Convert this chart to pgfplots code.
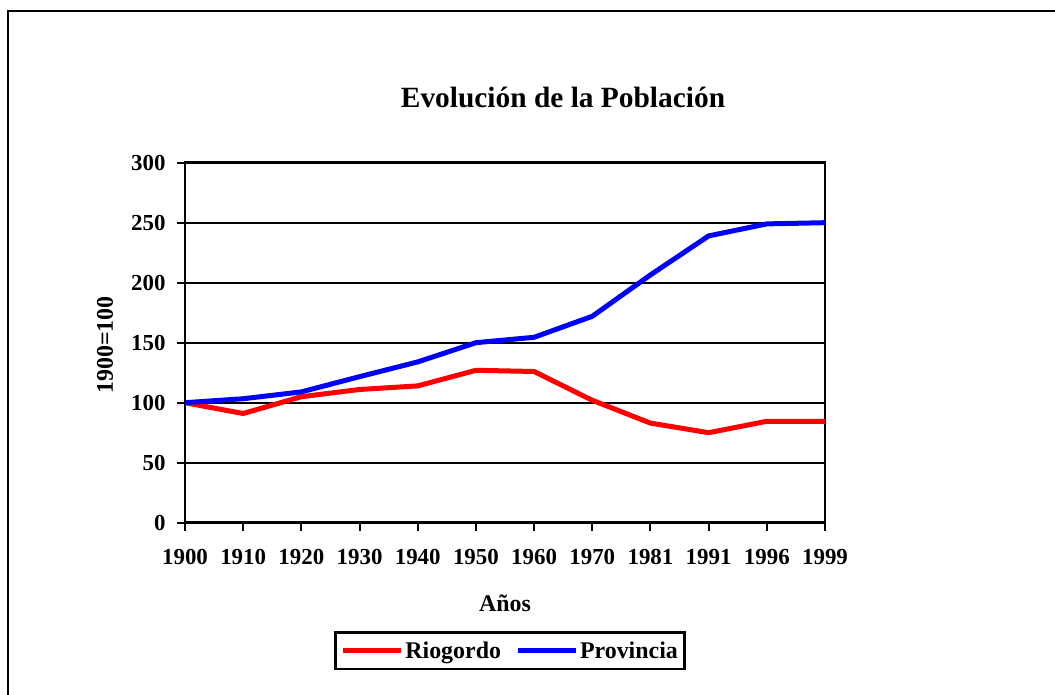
\documentclass[border=0pt]{standalone}
\usepackage{fontspec}
\setmainfont{Liberation Serif}
\usepackage{pgfplots}
\pgfplotsset{compat=1.18}
\pgfplotstableread{
x y
0 100
1 91
2 105
3 111
4 114
5 127
6 126
7 102
8 83
9 75
10 84.5
11 84.5
}\riogordo
\pgfplotstableread{
x y
0 100
1 103.3
2 109
3 121.7
4 134
5 150
6 154.5
7 172
8 206.5
9 239
10 249
11 250
}\provincia
\begin{document}
\begin{tikzpicture}[x=1bp,y=1bp]
\useasboundingbox (0,0) rectangle (1055,695);
\draw[line width=2bp] (8,-10) -- (8,684) -- (1065,684);
\node[font=\fontsize{29.5}{32}\selectfont\bfseries] at (563,598) {Evolución de la Población};
\node[font=\fontsize{24}{27}\selectfont\bfseries] at (505,92) {Años};
\node[font=\fontsize{24}{27}\selectfont\bfseries, rotate=90] at (105,350) {1900=100};
\begin{axis}[
  at={(185bp,172.3bp)}, anchor=south west,
  scale only axis, width=640bp, height=360bp,
  xmin=0, xmax=11, ymin=0, ymax=300,
  xtick={0,...,11},
  xticklabels={1900,1910,1920,1930,1940,1950,1960,1970,1981,1991,1996,1999},
  ytick={0,50,...,300},
  ymajorgrids,
  grid style={black, line width=2bp},
  axis line style={black, line width=2.8bp},
  tick style={black, line width=2bp},
  major tick length=8bp,
  tick align=outside,
  xtick pos=lower, ytick pos=left,
  ticklabel style={font=\fontsize{23}{26}\selectfont\bfseries},
  xticklabel style={yshift=-15bp},
  yticklabel style={xshift=-8bp},
  /pgf/number format/assume math mode=true,
  legend columns=2,
  legend style={at={(0.508,-0.356)}, anchor=center, draw=black, line width=2.8bp,
    font=\fontsize{24}{27}\selectfont\bfseries, inner xsep=5bp, inner ysep=7bp,
    nodes={inner sep=2bp},
    /tikz/every even column/.append style={column sep=12bp}},
  legend image code/.code={\draw[#1] (0bp,0bp) -- (58bp,0bp);},
]
\addplot[red, line width=5bp] table[x=x,y=y] {\riogordo};
\addlegendentry{Riogordo}
\addplot[blue, line width=5bp] table[x=x,y=y] {\provincia};
\addlegendentry{Provincia}
\end{axis}
\end{tikzpicture}
\end{document}
